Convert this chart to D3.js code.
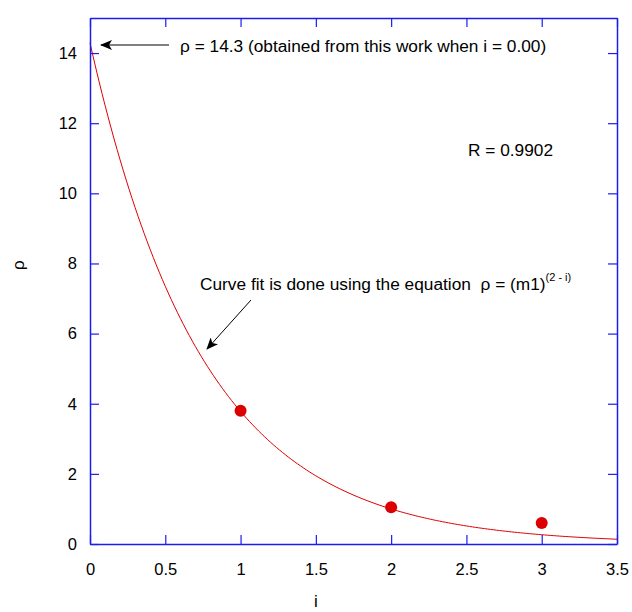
<!DOCTYPE html>
<html lang="en">
  <head>
    <meta charset="UTF-8">
    <script type="text/javascript" src="https://cdn.jsdelivr.net/npm/d3@7"></script>
    <style>
      body { margin: 0; background: #fff; }
      text { font-family: Arial, "Liberation Sans", sans-serif; }
    </style>
  </head>
  <body>
    <script type="text/javascript">
      let w = 632;
      let h = 612;

      // measured points (i, rho)
      let iValues = [1, 2, 3];
      let rhoValues = [3.8, 1.05, 0.6];

      // fit: rho = (m1)^(2 - i)
      let m1 = 3.78;

      let xTicks = [0, 0.5, 1, 1.5, 2, 2.5, 3, 3.5];
      let yTicks = [0, 2, 4, 6, 8, 10, 12, 14];

      let xScale = d3.scaleLinear().domain([0, 3.5]).range([90, 617]);
      let yScale = d3.scaleLinear().domain([0, 15]).range([544, 18]);

      let svg = d3.select('body')
                  .append('svg')
                  .attr('width', w)
                  .attr('height', h);

      svg.append('defs').append('marker')
          .attr('id', 'arr')
          .attr('viewBox', '0 0 12 10')
          .attr('refX', 11)
          .attr('refY', 5)
          .attr('markerWidth', 12)
          .attr('markerHeight', 10)
          .attr('markerUnits', 'userSpaceOnUse')
          .attr('orient', 'auto')
          .append('path')
          .attr('d', 'M0,0 L12,5 L0,10 L3,5 Z')
          .attr('fill', '#000');

      // fit curve
      let curve = d3.range(0, 3.5001, 0.02).map(i => [i, Math.pow(m1, 2 - i)]);
      svg.append('path')
          .datum(curve)
          .attr('fill', 'none')
          .attr('stroke', '#e00000')
          .attr('stroke-width', 1)
          .attr('d', d3.line().x(d => xScale(d[0])).y(d => yScale(d[1])));

      // points
      svg.selectAll('circle')
          .data(iValues.map((v, k) => [v, rhoValues[k]]))
          .enter()
          .append('circle')
          .attr('cx', d => xScale(d[0]))
          .attr('cy', d => yScale(d[1]))
          .attr('r', 6)
          .attr('fill', '#dd0000');

      // axes, ticks inward on all four sides
      let axisColor = '#1c1cf0';
      let tl = 9;
      let fs = 16.5;

      let xAxis = svg.append('g')
          .attr('transform', 'translate(0,' + yScale(0) + ')')
          .call(d3.axisBottom(xScale).tickValues(xTicks).tickSize(-tl).tickSizeOuter(0).tickFormat(d3.format('')));
      xAxis.selectAll('.tick text').attr('y', 19);

      let yAxis = svg.append('g')
          .attr('transform', 'translate(' + xScale(0) + ',0)')
          .call(d3.axisLeft(yScale).tickValues(yTicks).tickSize(-tl).tickSizeOuter(0));
      yAxis.selectAll('.tick text').attr('x', -13);

      let topAxis = svg.append('g')
          .attr('transform', 'translate(0,' + yScale(15) + ')')
          .call(d3.axisTop(xScale).tickValues(xTicks).tickSize(-tl).tickSizeOuter(0));
      let rightAxis = svg.append('g')
          .attr('transform', 'translate(' + xScale(3.5) + ',0)')
          .call(d3.axisRight(yScale).tickValues(yTicks).tickSize(-tl).tickSizeOuter(0));
      topAxis.selectAll('.tick text').remove();
      rightAxis.selectAll('.tick text').remove();

      [xAxis, yAxis, topAxis, rightAxis].forEach(g => {
        g.select('.domain').attr('stroke', axisColor).attr('stroke-width', 1.5);
        g.selectAll('.tick line').attr('stroke', axisColor).attr('stroke-width', 1.2);
        g.selectAll('.tick text')
          .attr('fill', '#000')
          .attr('font-size', fs)
          .attr('font-family', 'Arial, "Liberation Sans", sans-serif');
      });

      // axis titles
      svg.append('text')
          .attr('x', 316)
          .attr('y', 607)
          .attr('text-anchor', 'middle')
          .attr('font-size', 17)
          .text('i');
      svg.append('text')
          .attr('transform', 'translate(24,' + yScale(7.95) + ') rotate(-90)')
          .attr('text-anchor', 'middle')
          .attr('font-size', 17)
          .text('ρ');

      // annotations
      svg.append('line')
          .attr('x1', 169).attr('y1', 45)
          .attr('x2', 101).attr('y2', 45)
          .attr('stroke', '#000')
          .attr('stroke-width', 1)
          .attr('marker-end', 'url(#arr)');
      svg.append('text')
          .attr('x', 180)
          .attr('y', 52)
          .attr('font-size', 17.3)
          .text('ρ = 14.3 (obtained from this work when i = 0.00)');

      let t2 = svg.append('text')
          .attr('x', 200)
          .attr('y', 290)
          .attr('font-size', 17.3);
      t2.append('tspan').text('Curve fit is done using the equation\u00a0 ρ = (m1)');
      t2.append('tspan').attr('dy', -9).attr('font-size', 11).text('(2 - i)');

      svg.append('line')
          .attr('x1', 251).attr('y1', 300)
          .attr('x2', 207).attr('y2', 349)
          .attr('stroke', '#000')
          .attr('stroke-width', 1)
          .attr('marker-end', 'url(#arr)');

      svg.append('text')
          .attr('x', 468)
          .attr('y', 156)
          .attr('font-size', 17.3)
          .text('R = 0.9902');
    </script>
  </body>
</html>
